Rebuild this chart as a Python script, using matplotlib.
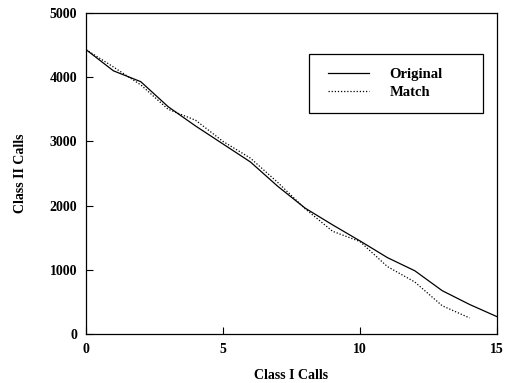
import matplotlib
matplotlib.use("Agg")
import matplotlib.pyplot as plt
from matplotlib.patches import Rectangle

class_i = [0, 1, 2, 3, 4, 5, 6, 7, 8, 9, 10, 11, 12, 13, 14, 15]
original = [4430, 4100, 3930, 3540, 3240, 2960, 2680, 2300, 1960, 1700, 1450, 1190, 985, 675, 460, 270]
class_i_match = [0, 1, 2, 3, 4, 5, 6, 7, 8, 9, 10, 11, 12, 13, 14]
match = [4430, 4160, 3880, 3500, 3330, 3000, 2740, 2360, 1950, 1600, 1440, 1050, 810, 440, 250]

plt.rcParams["font.family"] = ["Liberation Serif", "DejaVu Serif"]
plt.rcParams["font.weight"] = "bold"

fig = plt.figure(figsize=(5.05, 3.83), dpi=100)
ax = fig.add_axes([0.1703, 0.1279, 0.8139, 0.8381])

ax.plot(class_i, original, color="black", linewidth=0.9, label="Original")
ax.plot(class_i_match, match, color="black", linewidth=0.9, linestyle=(0, (1, 1.5)), label="Match")

ax.set_xlim(0, 15)
ax.set_ylim(0, 5000)
ax.set_xticks([0, 5, 10, 15])
ax.set_yticks([0, 1000, 2000, 3000, 4000, 5000])
ax.tick_params(direction="in", length=5, width=0.8, labelsize=10, pad=6.5)
for lbl in ax.get_xticklabels() + ax.get_yticklabels():
    lbl.set_fontweight("bold")
for s in ax.spines.values():
    s.set_linewidth(0.9)

ax.set_xlabel("Class I Calls", fontsize=10, fontweight="bold", labelpad=9.5)
ax.set_ylabel("Class II Calls", fontsize=10, fontweight="bold", labelpad=16)

ax.add_patch(Rectangle((0.543, 0.689), 0.422, 0.183, transform=ax.transAxes,
                       fill=False, edgecolor="black", linewidth=0.9))
leg = ax.legend(loc="center left", bbox_to_anchor=(0.589, 0.780), frameon=False,
                borderpad=0, borderaxespad=0, handlelength=2.8, handletextpad=1.4,
                labelspacing=0.35, prop={"size": 10.5, "weight": "bold"})

fig.savefig("out.png", dpi=100)
